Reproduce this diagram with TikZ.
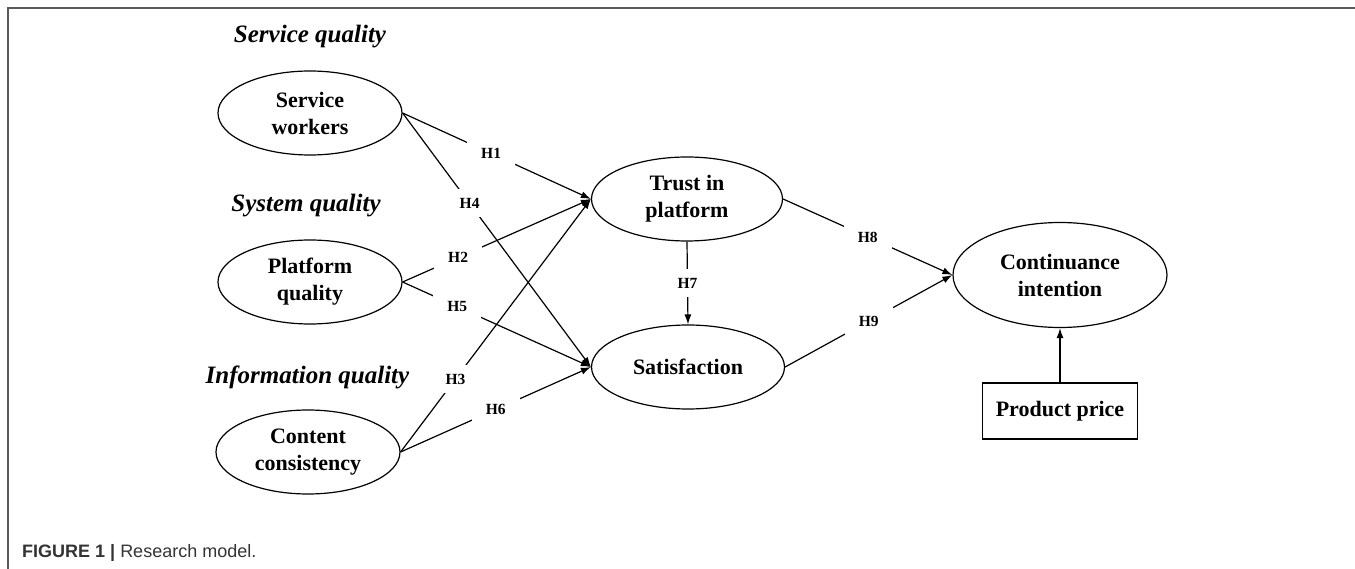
\documentclass[tikz,border=0pt]{standalone}
\usepackage{fontspec}
\setmainfont{Liberation Serif}
\newfontfamily\capfont{Liberation Sans}
\usetikzlibrary{shapes.geometric,arrows.meta}
\definecolor{framegray}{HTML}{5A5A5A}
\definecolor{captext}{HTML}{333333}
\tikzset{
  construct/.style={ellipse, draw, line width=1.2pt, inner sep=0pt, align=center,
    font=\fontsize{22}{27}\selectfont\bfseries},
  pricebox/.style={rectangle, draw, line width=1.2pt, inner sep=0pt,
    minimum width=155pt, minimum height=56pt, font=\fontsize{22}{27}\selectfont\bfseries},
  hyp/.style={fill=white, inner sep=0pt, minimum width=48pt, minimum height=28pt,
    font=\fontsize{15.5}{18}\selectfont\bfseries},
  link/.style={line width=1.2pt, -{Latex[length=10pt,width=7pt]}},
  grouplabel/.style={anchor=base, inner sep=0pt, font=\fontsize{25}{30}\selectfont\bfseries\itshape},
}
\begin{document}
\begin{tikzpicture}[x=1pt,y=-1pt]
\useasboundingbox (0,0) rectangle (1355,569);
% frame
\coordinate (fr1) at (1355,8);
\coordinate (fr2) at (8,8);
\coordinate (fr3) at (8,569);
\draw[framegray, line width=1.5pt] (fr1) -- (fr2) -- (fr3);

% group labels
\node[grouplabel] (gl1) at (310,43) {Service quality};
\node[grouplabel] (gl2) at (306,212) {System quality};
\node[grouplabel] (gl3) at (307.5,384) {Information quality};

% constructs
\node[construct, minimum width=184pt, minimum height=84pt] (sw) at (310,113) {Service\\workers};
\node[construct, minimum width=184pt, minimum height=84pt] (pq) at (310,282) {Platform\\quality};
\node[construct, minimum width=184pt, minimum height=84pt] (cc) at (308,452) {Content\\consistency};
\node[construct, minimum width=191pt, minimum height=84pt] (tr) at (687,199) {Trust in\\platform};
\node[construct, minimum width=193pt, minimum height=84pt] (sat) at (688,367) {Satisfaction};
\node[construct, minimum width=214pt, minimum height=105pt] (ci) at (1060,275) {Continuance\\intention};
\node[pricebox] (pp) at (1060,411) {Product price};

% paths
\draw[link] (sw.east) -- node[hyp, pos=0.47] {H1} (tr.west);
\draw[link] (sw.east) -- node[hyp, pos=0.356] {H4} (sat.west);
\draw[link] (pq.east) -- node[hyp, pos=0.295] {H2} (tr.west);
\draw[link] (pq.east) -- node[hyp, pos=0.29] {H5} (sat.west);
\draw[link] (cc.east) -- node[hyp, pos=0.288] {H3} (tr.west);
\draw[link] (cc.east) -- node[hyp, pos=0.5] {H6} (sat.west);
\draw[link] (tr.south) -- node[hyp, pos=0.5] {H7} (sat.north);
\draw[link] (tr.east) -- node[hyp, pos=0.5] {H8} (ci.west);
\draw[link] (sat.east) -- node[hyp, pos=0.5] {H9} (ci.west);
\draw[link] (pp.north) -- (ci.south);

% caption
\node[anchor=base west, inner sep=0pt, text=captext, font=\capfont\fontsize{18}{22}\selectfont] (cap) at (22,557)
  {\textbf{FIGURE 1 |} Research model.};
\end{tikzpicture}
\end{document}
